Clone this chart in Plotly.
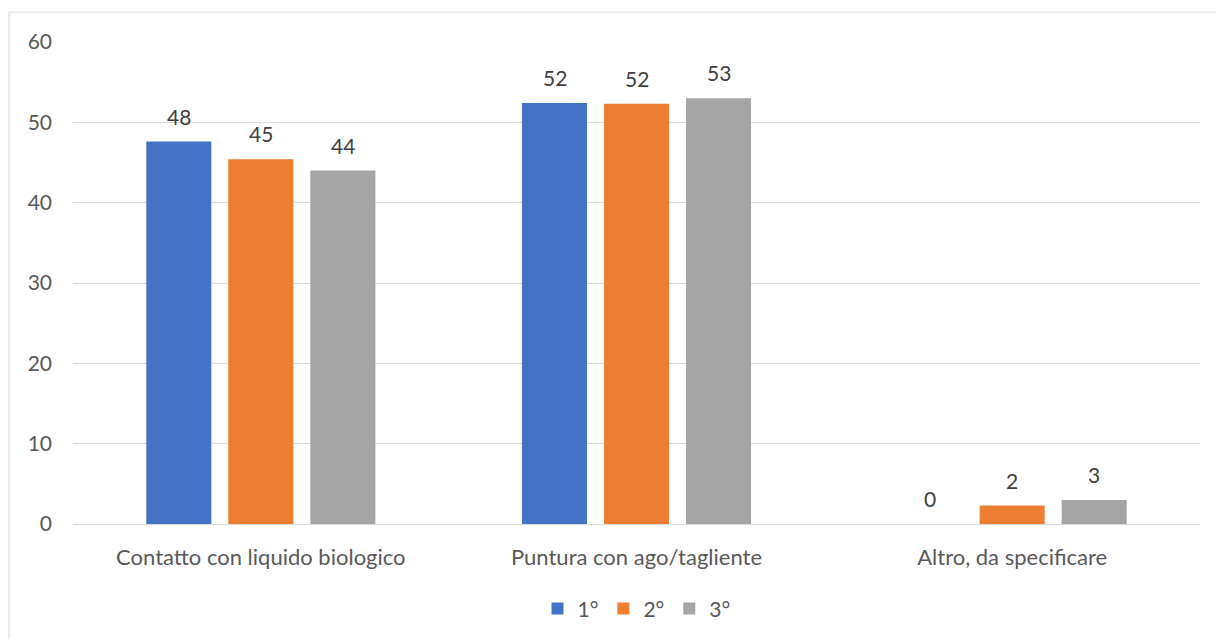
import plotly.graph_objects as go

categories = ["Contatto con liquido biologico", "Puntura con ago/tagliente", "Altro, da specificare"]
series_names = ["1°", "2°", "3°"]
values_1 = [47.6, 52.4, 0.0]
values_2 = [45.4, 52.3, 2.3]
values_3 = [44.0, 53.0, 3.0]
colors = ["#4472C4", "#ED7D31", "#A5A5A5"]

font_family = "Lato, 'Open Sans', sans-serif"
slot_px = 82  # horizontal distance between neighbouring bars of one group

fig = go.Figure()
all_series = [values_1, values_2, values_3]
for name, vals, col in zip(series_names, all_series, colors):
    fig.add_trace(go.Bar(
        x=categories, y=vals, name=name,
        marker=dict(color=col, line=dict(width=0)),
        cliponaxis=False,
    ))

# value labels sitting above each bar
annotations = []
for i, vals in enumerate(all_series):
    for cat, v in zip(categories, vals):
        annotations.append(dict(
            x=cat, y=v, xref="x", yref="y", text=f"{v:.0f}", showarrow=False,
            xshift=(i - 1) * slot_px, yshift=11, yanchor="bottom",
            font=dict(family=font_family, size=21, color="#404040"),
        ))

fig.update_layout(
    width=1216, height=639,
    margin=dict(l=73, r=16, t=42, b=115, autoexpand=False),
    plot_bgcolor="white", paper_bgcolor="white",
    barmode="group", bargap=0.345, bargroupgap=0.207,
    font=dict(family=font_family, size=22, color="#595959"),
    showlegend=True,
    legend=dict(orientation="h", x=0.5, xanchor="center", y=-0.176, yanchor="middle",
                font=dict(size=21, color="#595959"), itemwidth=30,
                traceorder="normal"),
    annotations=annotations,
    shapes=[dict(type="rect", xref="paper", yref="paper",
                 x0=-0.0568, x1=1.3, y0=-0.5, y1=1.062,
                 line=dict(color="#D9D9D9", width=1), layer="below")],
)
fig.update_yaxes(range=[0, 60], dtick=10, showgrid=True, gridcolor="#D9D9D9", gridwidth=1,
                 zeroline=True, zerolinecolor="#D9D9D9", zerolinewidth=1,
                 showline=False, ticklabelstandoff=20,
                 tickfont=dict(size=21, color="#595959"))
fig.update_xaxes(showgrid=False, showline=False, ticklabelstandoff=18,
                 tickfont=dict(size=22, color="#595959"))

fig.write_html("out.html")
